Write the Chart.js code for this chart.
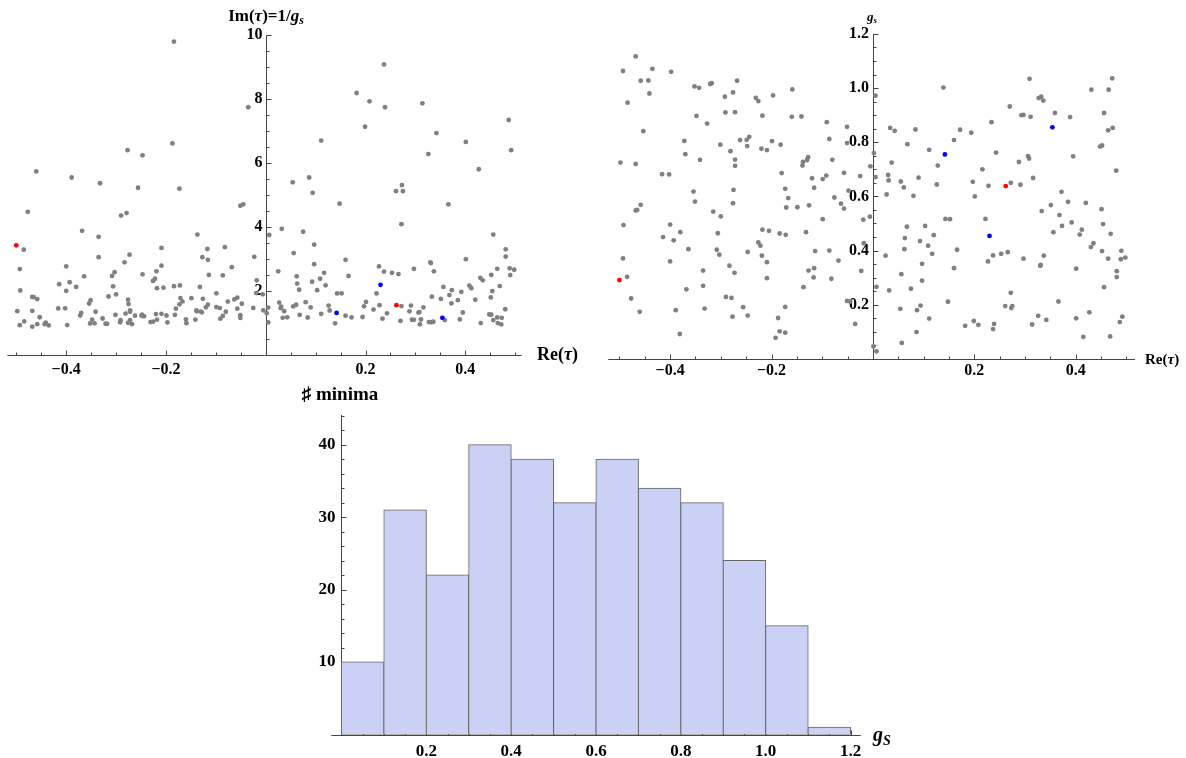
<!DOCTYPE html>
<html lang="en">
<head>
<meta charset="UTF-8">
<title>Minima of the string coupling</title>
<style>
  body { margin: 0; background: #fff; }
  .wrap { position: relative; width: 1186px; height: 758px; overflow: hidden; }
  canvas { position: absolute; left: 0; top: 0; }
  .lbl { position: absolute; font-family: "Liberation Serif", serif; font-weight: bold; line-height: 1; white-space: nowrap; color: #000; }
  .lbl sub { font-size: 70%; vertical-align: -0.25em; line-height: 0; }
</style>
</head>
<body>
<div class="wrap">
  <canvas id="imChart" width="1186" height="758"></canvas>
  <canvas id="gsChart" width="1186" height="758"></canvas>
  <canvas id="histChart" width="1186" height="758"></canvas>

  <div class="lbl" style="left:266px; top:7px; font-size:17px; transform:translateX(-50%)">Im(<i>τ</i>)=1/<i>g</i><sub><i>s</i></sub></div>
  <div class="lbl" style="left:537px; top:345px; font-size:18px">Re(<i>τ</i>)</div>
  <div class="lbl" style="left:872px; top:10px; font-size:13px; transform:translateX(-50%)"><i>g</i><sub><i>s</i></sub></div>
  <div class="lbl" style="left:1145px; top:352px; font-size:15px">Re(<i>τ</i>)</div>
  <div class="lbl" style="left:340px; top:384px; font-size:19px; transform:translateX(-50%)">♯ minima</div>
  <div class="lbl" style="left:873px; top:724px; font-size:20px"><i>g</i><sub><i>S</i></sub></div>
</div>

<script src="https://cdn.jsdelivr.net/npm/chart.js"></script>
<script>
// vacua: Re(tau) and g_s (Im(tau) = 1/g_s)
const reTau = [
  -0.468,-0.493,-0.435,-0.398,-0.458,-0.443,-0.441,-0.484,-0.453,-0.498,
  -0.468,-0.416,-0.402,-0.352,-0.343,-0.321,-0.318,-0.268,-0.276,-0.292,
  -0.348,-0.291,-0.272,-0.327,-0.372,-0.370,-0.341,-0.301,-0.281,-0.262,
  -0.249,-0.244,-0.248,-0.272,-0.272,-0.354,-0.275,-0.231,-0.226,-0.197,
  -0.218,-0.159,-0.160,-0.141,-0.199,-0.182,-0.220,-0.209,-0.180,-0.173,
  -0.167,-0.138,-0.139,-0.130,-0.128,-0.120,-0.116,-0.091,-0.086,-0.080,
  -0.099,-0.092,-0.076,-0.057,-0.051,-0.051,-0.048,-0.025,0.005,0.002,
  -0.005,0.005,
  -0.351,-0.458,-0.468,-0.465,-0.492,-0.493,-0.485,-0.477,-0.460,-0.414,
  -0.393,-0.400,-0.380,-0.400,-0.389,-0.381,-0.364,-0.368,-0.335,-0.335,
  -0.332,-0.315,-0.300,-0.306,-0.308,-0.303,-0.283,-0.273,-0.290,-0.279,
  -0.277,-0.276,-0.256,-0.247,-0.247,-0.226,-0.222,-0.219,-0.209,-0.209,
  -0.218,-0.205,-0.184,-0.172,-0.171,-0.149,-0.126,-0.132,-0.137,-0.127,
  -0.116,-0.117,-0.114,-0.099,-0.086,-0.082,-0.068,-0.063,-0.057,-0.051,
  -0.045,-0.035,-0.023,-0.019,-0.006,-0.018,0.001,0.007,0.007,-0.192,
  -0.184,-0.173,-0.187,-0.173,
  0.139,0.309,0.472,0.431,0.465,0.327,0.332,0.336,0.270,0.293,
  0.297,0.311,0.359,0.389,0.456,0.234,0.034,0.043,0.084,0.172,
  0.194,0.464,0.473,0.068,0.160,0.111,0.243,0.448,0.452,0.306,
  0.308,0.288,0.395,0.037,0.128,0.216,0.480,0.030,0.031,0.055,
  0.090,0.061,0.126,0.197,0.228,0.272,0.291,0.316,0.372,0.027,
  0.080,0.201,
  0.351,0.333,0.385,0.420,0.451,0.368,0.373,0.392,0.356,0.408,
  0.412,0.469,0.454,0.067,0.103,0.063,0.120,0.093,0.143,0.152,
  0.222,0.062,0.109,0.117,0.025,0.166,0.097,0.160,0.227,0.237,
  0.253,0.266,0.297,0.337,0.331,0.330,0.435,0.430,0.452,0.464,
  0.490,0.489,0.498,0.481,0.481,0.401,0.056,0.032,0.097,0.075,
  0.456,0.272,0.366,0.427,0.054,0.094,0.087,0.148,0.261,0.275,
  0.273,0.111,0.326,0.342,0.401,0.492,0.487,0.182,0.199,0.208,
  0.239,0.237,0.314,0.086,0.057,0.415,0.468
];
const gS = [
  1.117,1.063,1.071,1.060,1.027,1.028,0.980,0.946,0.841,0.725,
  0.720,0.682,0.681,1.006,1.001,1.015,1.018,1.027,0.984,0.968,
  0.897,0.910,0.911,0.869,0.805,0.756,0.735,0.791,0.767,0.808,
  0.809,0.820,0.786,0.736,0.713,0.618,0.624,0.964,0.952,0.973,
  0.898,0.995,0.894,0.895,0.804,0.791,0.776,0.771,0.686,0.628,
  0.594,0.727,0.714,0.734,0.745,0.667,0.632,0.874,0.812,0.735,
  0.664,0.677,0.596,0.687,0.857,0.797,0.621,0.675,0.972,0.760,
  0.711,0.671,
  0.581,0.569,0.548,0.550,0.494,0.371,0.303,0.223,0.174,0.450,
  0.438,0.496,0.468,0.360,0.180,0.092,0.405,0.257,0.326,0.270,
  0.186,0.544,0.526,0.464,0.403,0.385,0.344,0.318,0.229,0.225,
  0.156,0.575,0.191,0.160,0.395,0.430,0.418,0.381,0.357,0.298,
  0.477,0.473,0.463,0.458,0.559,0.560,0.567,0.468,0.265,0.326,
  0.335,0.301,0.398,0.516,0.400,0.296,0.363,0.573,0.555,0.214,
  0.212,0.129,0.325,0.514,0.525,0.427,0.046,0.028,0.266,0.078,
  0.102,0.097,0.151,0.192,
  1.002,1.034,1.036,0.994,0.994,0.963,0.968,0.954,0.932,0.900,
  0.901,0.894,0.908,0.893,0.908,0.874,0.853,0.842,0.847,0.846,
  0.835,0.844,0.853,0.793,0.808,0.772,0.762,0.784,0.788,0.749,
  0.740,0.727,0.748,0.725,0.714,0.700,0.695,0.679,0.659,0.655,
  0.669,0.633,0.644,0.654,0.639,0.650,0.643,0.668,0.617,0.607,
  0.602,0.600,
  0.568,0.546,0.580,0.576,0.553,0.531,0.491,0.504,0.468,0.459,
  0.477,0.462,0.498,0.488,0.491,0.446,0.457,0.435,0.517,0.516,
  0.517,0.405,0.418,0.388,0.381,0.403,0.351,0.335,0.360,0.382,
  0.388,0.394,0.370,0.381,0.347,0.344,0.427,0.413,0.398,0.370,
  0.399,0.368,0.374,0.324,0.302,0.333,0.313,0.253,0.289,0.259,
  0.265,0.244,0.212,0.172,0.185,0.197,0.180,0.211,0.195,0.195,
  0.188,0.149,0.159,0.144,0.150,0.156,0.136,0.122,0.140,0.126,
  0.129,0.110,0.127,0.099,0.059,0.081,0.083
];

// highlighted vacua
const redRe = [-0.500, 0.262];
const redGs = [0.291, 0.638];
const blueRe = [0.142, 0.230, 0.354];
const blueGs = [0.755, 0.454, 0.855];

// histogram of g_s
const binCenters = [0.05, 0.15, 0.25, 0.35, 0.45, 0.55, 0.65, 0.75, 0.85, 0.95, 1.05, 1.15];
const binCounts = [10, 31, 22, 40, 38, 32, 38, 34, 32, 24, 15, 1];

// tick labels
const reTicks = [-0.4, -0.2, 0.2, 0.4];
const imTicks = [2, 4, 6, 8, 10];
const gsTicks = [0.2, 0.4, 0.6, 0.8, 1.0, 1.2];
const histXTicks = [0.2, 0.4, 0.6, 0.8, 1.0, 1.2];
const histYTicks = [10, 20, 30, 40];

function fmt(v, d) {
  const s = Math.abs(v).toFixed(d);
  return v < 0 ? '\u2212' + s : s;
}

// Mathematica-style axes crossing at the origin, ticks pointing inward
const mathAxes = {
  id: 'mathAxes',
  beforeDatasetsDraw(chart, args, o) {
    const { ctx, chartArea: a } = chart;
    const sx = chart.scales.x, sy = chart.scales.y;
    const x0 = Math.round(sx.getPixelForValue(0)) + 0.5;
    const y0 = Math.round(sy.getPixelForValue(0)) + 0.5;
    const isMajor = (v, step) => Math.abs(v / step - Math.round(v / step)) < 1e-6;
    ctx.save();
    ctx.strokeStyle = '#444';
    ctx.lineWidth = 1;
    ctx.beginPath();
    ctx.moveTo(a.left, y0); ctx.lineTo(a.right, y0);
    ctx.moveTo(x0, y0); ctx.lineTo(x0, a.top);
    let i0 = Math.ceil(sx.min / o.xMinor - 1e-6), i1 = Math.floor(sx.max / o.xMinor + 1e-6);
    for (let i = i0; i <= i1; i++) {
      if (i === 0) continue;
      const v = i * o.xMinor;
      const p = Math.round(sx.getPixelForValue(v)) + 0.5;
      ctx.moveTo(p, y0); ctx.lineTo(p, y0 - (isMajor(v, o.xMajor) ? 5 : 3));
    }
    i0 = Math.ceil(sy.min / o.yMinor - 1e-6); i1 = Math.floor(sy.max / o.yMinor + 1e-6);
    for (let i = i0; i <= i1; i++) {
      if (i === 0) continue;
      const v = i * o.yMinor;
      const p = Math.round(sy.getPixelForValue(v)) + 0.5;
      ctx.moveTo(x0, p); ctx.lineTo(x0 + (isMajor(v, o.yMajor) ? 5 : 3), p);
    }
    ctx.stroke();

    ctx.fillStyle = '#000';
    ctx.font = 'bold ' + o.size + 'px "Liberation Serif"';
    ctx.textAlign = 'center';
    ctx.textBaseline = 'alphabetic';
    o.xLabels.forEach(v => ctx.fillText(fmt(v, o.xDigits), sx.getPixelForValue(v), y0 + o.xDy));
    ctx.textAlign = 'right';
    ctx.textBaseline = 'middle';
    o.yLabels.forEach(v => ctx.fillText(fmt(v, o.yDigits), x0 - o.yDx, sy.getPixelForValue(v)));
    ctx.restore();
  }
};

function pts(xs, ys) {
  return xs.map((x, i) => ({ x: x, y: ys[i] }));
}

function scatterSet(data, color, order) {
  return {
    data: data, order: order,
    backgroundColor: color, borderWidth: 0,
    pointRadius: 2.4, pointHoverRadius: 2.4
  };
}

function baseOptions(padding, xr, yr, axes) {
  return {
    responsive: false,
    animation: false,
    events: [],
    layout: { padding: padding },
    plugins: { legend: { display: false }, tooltip: { enabled: false }, mathAxes: axes },
    scales: {
      x: { type: 'linear', min: xr[0], max: xr[1], display: false, offset: false },
      y: { type: 'linear', min: yr[0], max: yr[1], display: false }
    }
  };
}

// left: Im(tau) = 1/g_s, cut at 10
const inv = g => 1 / g;
const imAll = pts(reTau, gS.map(inv)).filter(p => p.y <= 10);
new Chart(document.getElementById('imChart'), {
  type: 'scatter',
  data: { datasets: [
    scatterSet(imAll, '#808080', 2),
    scatterSet(pts(redRe, redGs.map(inv)), '#ff0000', 1),
    scatterSet(pts(blueRe, blueGs.map(inv)), '#0000ff', 0)
  ] },
  options: baseOptions({ left: 7.3, right: 664.3, top: 35.3, bottom: 402.7 }, [-0.518, 0.513], [0, 10],
    { xMinor: 0.05, xMajor: 0.2, yMinor: 0.5, yMajor: 2, xLabels: reTicks, yLabels: imTicks,
      xDigits: 1, yDigits: 0, size: 16, xDy: 18.5, yDx: 4 }),
  plugins: [mathAxes]
});

// right: g_s vs Re(tau)
new Chart(document.getElementById('gsChart'), {
  type: 'scatter',
  data: { datasets: [
    scatterSet(pts(reTau, gS), '#808080', 2),
    scatterSet(pts(redRe, redGs), '#ff0000', 1),
    scatterSet(pts(blueRe, blueGs), '#0000ff', 0)
  ] },
  options: baseOptions({ left: 608.3, right: 51, top: 33.9, bottom: 399.1 }, [-0.522, 0.517], [0, 1.2],
    { xMinor: 0.05, xMajor: 0.2, yMinor: 0.05, yMajor: 0.2, xLabels: reTicks, yLabels: gsTicks,
      xDigits: 1, yDigits: 1, size: 16, xDy: 15.5, yDx: 4.5 }),
  plugins: [mathAxes]
});

// bottom: histogram of g_s
new Chart(document.getElementById('histChart'), {
  type: 'bar',
  data: { datasets: [{
    data: pts(binCenters, binCounts),
    backgroundColor: '#cbd1f5',
    borderColor: '#666',
    borderWidth: 1,
    borderSkipped: false,
    inflateAmount: 0.5,
    barPercentage: 1,
    categoryPercentage: 1
  }] },
  options: baseOptions({ left: 331.3, right: 325.3, top: 415, bottom: 23.5 }, [-0.024, 1.224], [0, 44.1],
    { xMinor: 0.05, xMajor: 0.2, yMinor: 2, yMajor: 10, xLabels: histXTicks, yLabels: histYTicks,
      xDigits: 1, yDigits: 0, size: 17, xDy: 20, yDx: 6 }),
  plugins: [mathAxes]
});
</script>
</body>
</html>
